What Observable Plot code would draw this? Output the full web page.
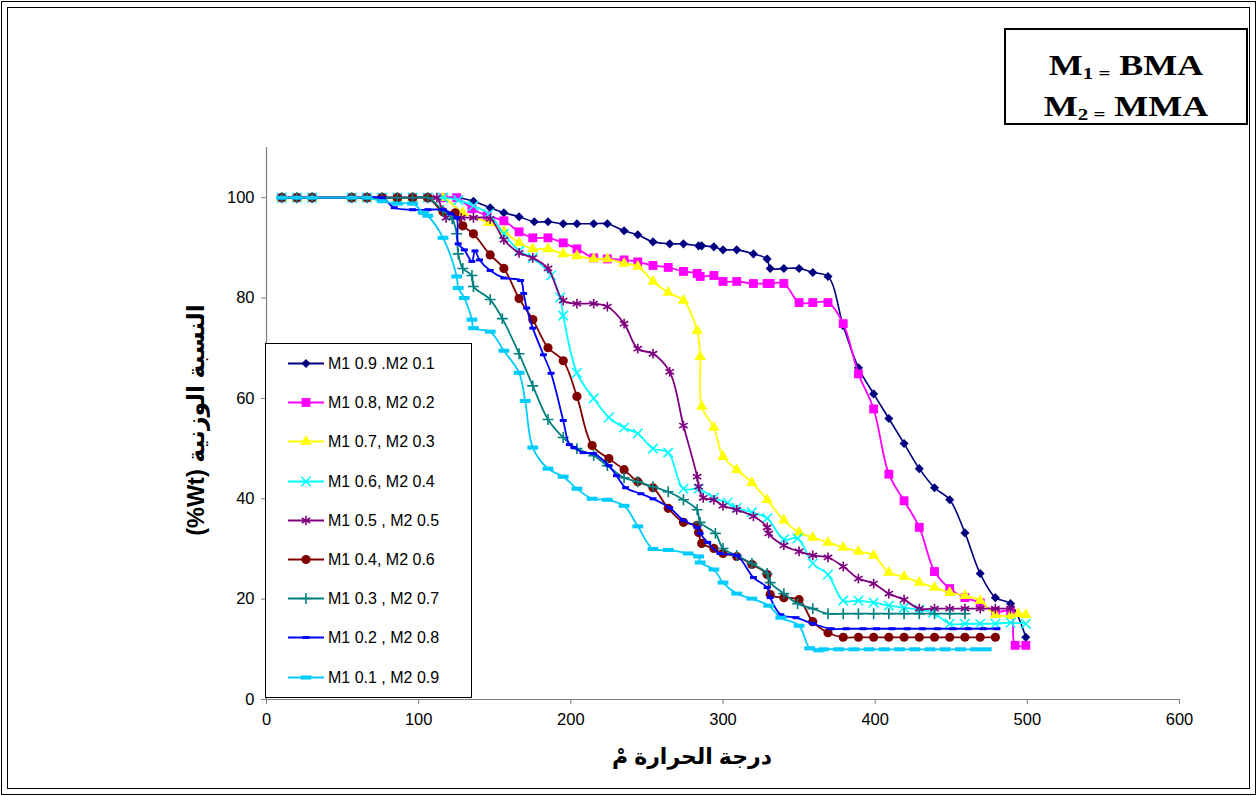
<!DOCTYPE html>
<html><head><meta charset="utf-8">
<script src="https://cdn.jsdelivr.net/npm/d3@7"></script>
<script src="https://cdn.jsdelivr.net/npm/@observablehq/plot@0.6"></script>
<style>
body{margin:0;background:#fff;}
#wrap{position:relative;width:1257px;height:796px;overflow:hidden;font-family:"Liberation Sans",Arial,sans-serif;background:#fff;}
#chart{position:absolute;left:0;top:0;}
.f1{position:absolute;left:1px;top:1px;width:1253px;height:792px;border:1px solid #000;pointer-events:none;}
.f2{position:absolute;left:7px;top:7px;width:1241px;height:780px;border:1px solid #000;pointer-events:none;}
#key{position:absolute;left:1004px;top:28px;width:240px;height:93px;border:2px solid #000;background:#fff;
 font-family:"Liberation Serif","Times New Roman",serif;font-weight:bold;}
#key .ln{position:absolute;left:0;width:100%;text-align:center;font-size:36px;line-height:36px;height:36px;white-space:nowrap;
 transform:scaleY(0.84);transform-origin:50% 30px;}
#key .sub{font-size:21px;vertical-align:-5px;}
#legend{position:absolute;left:265px;top:343px;width:205px;height:353px;border:1px solid #000;background:#fff;}
.row{position:absolute;left:0;height:39px;width:205px;}
.row svg{position:absolute;left:0;top:0;}
.row span{position:absolute;left:62px;top:0;line-height:39px;font-size:16px;white-space:nowrap;color:#000;}
#ytitle{position:absolute;left:196px;top:420px;transform:translate(-50%,-50%) rotate(-90deg);font-weight:bold;font-size:23.5px;white-space:nowrap;direction:rtl;font-family:"Liberation Sans","DejaVu Sans",sans-serif;}
#xtitle{position:absolute;left:692px;top:757px;transform:translate(-50%,-50%);font-weight:bold;font-size:22px;white-space:nowrap;direction:rtl;font-family:"Liberation Sans","DejaVu Sans",sans-serif;}
</style></head>
<body>
<div id="wrap">
  <div id="chart"></div>
  <div class="f1"></div><div class="f2"></div>
  <div id="key">
    <div class="ln" style="top:15px">M<span class="sub">1 =</span> BMA</div>
    <div class="ln" style="top:56px">M<span class="sub">2 =</span> MMA</div>
  </div>
  <div id="legend"></div>
  <div id="ytitle">النسبة الوزنية &#x2066;(%Wt)&#x2069;</div>
  <div id="xtitle">درجة الحرارة مْ</div>
</div>
<script>
const xTicks = [0,100,200,300,400,500,600];
const yTicks = [0,20,40,60,80,100];
const seriesNames = ["M1 0.9 .M2 0.1","M1 0.8, M2 0.2","M1 0.7, M2 0.3","M1 0.6, M2 0.4","M1 0.5 , M2 0.5","M1 0.4, M2 0.6","M1 0.3 , M2 0.7","M1 0.2 , M2 0.8","M1 0.1 , M2 0.9"];

const head = [[10,100],[20,100],[30,100],[56,100],[66,100],[76,100],[86,100],[96,100],[106,100]];

const s1 = head.concat([[116,100],[126,100],[136,99.3],[147,98],[156,97],[166,96.2],[176,95.2],[185,95.2],[195,94.8],[204,94.8],[215,94.8],[224,94.8],[235,93.4],[244,92.6],[254,91.2],[265,90.8],[274,90.8],[284,90.4],[286,90.4],[294,90.2],[300,89.6],[309,89.6],[320,88.8],[329,87.8],[331,85.9],[340,85.9],[350,85.9],[359,85.1],[369,84.3],[379,74.5],[389,66.1],[399,60.9],[409,56],[419,51],[429,46],[439,42.2],[449,39.8],[459,33.2],[469,25.1],[479,20.3],[489,19.1],[499,12.4]]);

const s2 = head.concat([[116,100],[125,100],[135,97.8],[145,96.4],[156,95.4],[166,93.2],[175,92],[185,92],[195,91],[204,89.8],[215,88],[224,87.8],[235,87.6],[244,87.2],[254,86.5],[264,86.1],[274,85.3],[283,84.9],[285,84.3],[294,84.5],[300,83.3],[309,83.3],[320,82.9],[329,82.9],[331,82.9],[340,82.9],[350,79.1],[359,79.1],[369,79.1],[379,74.9],[389,64.9],[399,57.9],[409,44.9],[419,39.6],[429,34.3],[439,25.5],[449,22.1],[459,20.3],[469,19.3],[479,17.5],[489,17.5],[492,10.8],[499,10.8]]);

const s3 = head.concat([[116,100],[129,97],[146,95],[156,93.3],[166,91],[175,89.8],[185,89.8],[195,88.8],[204,88.4],[215,87.8],[224,87.8],[235,86.9],[244,86.3],[254,83.3],[264,81.1],[274,79.5],[283,73.5],[285,68.3],[286,58.4],[294,54.2],[300,48.4],[309,45.8],[319,43.2],[329,39.8],[340,35.7],[350,33.3],[359,32.3],[369,31.3],[379,30.3],[389,29.5],[399,28.7],[409,25.3],[419,24.5],[429,23.3],[439,22.3],[449,21.3],[459,20.7],[469,19.7],[479,16.9],[489,16.7],[494,17.1],[499,16.9]]);

const s4 = head.concat([[116,100],[126,99.5],[136,98.4],[146,96.8],[156,92.8],[166,89.4],[175,88],[187,84.5],[193,80.1],[195,76.5],[204,65.1],[215,60],[225,56.2],[235,54.2],[244,53],[254,50],[264,49.2],[274,42],[284,42],[294,40.2],[303,39.2],[309,38.2],[319,37.3],[329,36.1],[340,31.9],[349,32.1],[359,27.1],[369,24.9],[379,19.7],[389,19.7],[399,19.3],[409,18.7],[419,18.3],[429,17.9],[438,17.3],[449,15.1],[459,15.1],[469,15.1],[479,15.1],[489,15.3],[499,15.1]]);

const s5 = head.concat([[112,100],[118,96],[128,96],[136,96],[147,95.8],[156,91.6],[166,89],[175,88],[185,85.9],[195,79.5],[204,78.9],[215,78.9],[224,78.3],[235,74.9],[244,69.9],[254,68.9],[265,65.3],[274,54.6],[283,44.4],[284,42.4],[287,40.2],[294,39.8],[300,38.6],[309,37.8],[320,36.5],[329,34.3],[330,33.1],[340,30.7],[350,29.5],[359,28.7],[369,28.3],[379,26.5],[389,24.1],[399,23.1],[409,21.1],[419,19.9],[429,18.1],[439,18.1],[449,18.1],[459,18.1],[469,18.1],[479,18.1],[489,18.1]]);

const s6 = head.concat([[116,97.2],[124,97],[129,94.4],[136,92.8],[147,88.6],[156,85.9],[166,79.9],[175,75.7],[185,70.1],[195,67.5],[204,60.4],[214,50.6],[225,48],[235,45.8],[244,43.4],[254,42.2],[264,38.1],[274,35.3],[283,34.7],[284,33.3],[286,31.1],[294,30.1],[300,29.1],[309,28.5],[319,26.9],[329,24.9],[331,20.9],[340,20.3],[350,19.9],[359,15.5],[369,13.3],[379,12.4],[389,12.4],[399,12.4],[409,12.4],[419,12.4],[429,12.4],[439,12.4],[449,12.4],[459,12.4],[469,12.4],[479,12.4]]);

const s7 = head.concat([[116,97.4],[122,95.8],[125,92.8],[126,88.8],[129,85.9],[135,84.5],[136,82.3],[147,79.7],[155,75.9],[166,68.9],[175,62.5],[185,55.8],[195,52.2],[204,50],[215,48.6],[224,46.6],[235,44.2],[244,43.4],[254,42.4],[264,41.4],[274,39.8],[283,37.8],[285,35.3],[295,33.1],[300,30.1],[309,28.7],[319,27.1],[329,25.1],[331,23.3],[340,21.1],[349,19.1],[359,18.1],[369,17.1],[379,17.1],[389,17.1],[399,17.1],[409,17.1],[419,17.1],[429,17.1],[439,17.1],[449,17.1],[459,17.1]]);

const s8 = [[10,100],[20,100],[30,100],[56,100],[66,100],[76,100],[84,98],[96,97.6],[106,97.6],[116,97.6],[121,96.8],[125,96],[126,90.8],[130,89.6],[135,87.3],[137,89.4],[140,87.6],[147,85.5],[156,84],[167,83.5],[169,80.9],[171,78],[175,74],[182,68.7],[187,65],[195,55.6],[199,50.8],[202,50.2],[208,49.2],[215,49],[225,46.6],[230,44.6],[236,42.2],[246,41],[254,40],[265,38.2],[274,35.7],[283,34.3],[285,33.1],[290,31.3],[298,29.1],[309,28.7],[320,24.3],[329,22.3],[331,20.3],[338,16.9],[348,16.3],[359,15.1],[371,14.1],[381,14.1],[392,14.1],[401,14.1],[411,14.1],[421,14.1],[431,14.1],[441,14.1],[451,14.1],[461,14.1],[471,14.1],[480,14.1]];

const s9 = [[10,100],[20,100],[30,100],[56,100],[66,100],[76,99.3],[86,98.8],[96,98.8],[103,97],[106,96.4],[116,92],[125,84.3],[126,82],[130,80],[135,75.7],[136,74],[147,73.3],[156,69.5],[166,65.1],[170,59.5],[175,50.2],[185,46],[195,44.4],[204,42],[214,40],[224,39.8],[235,38.6],[244,34.5],[254,30],[264,29.8],[277,29.1],[284,28.5],[285,27.3],[294,25.9],[300,23.3],[309,21.1],[319,20.1],[330,18.7],[338,16.3],[350,14.7],[357,10.2],[363,9.8],[366,10],[376,10],[386,10],[396,10],[406,10],[416,10],[426,10],[436,10],[446,10],[456,10],[466,10],[473,10]];

const seriesData = [s1,s2,s3,s4,s5,s6,s7,s8,s9];
const colors = ["#000080","#FF00FF","#FFFF00","#00FFFF","#800080","#800000","#008080","#0000FF","#00CCFF"];

const dashSmall = {draw(ctx,size){const s=Math.sqrt(size/Math.PI); ctx.rect(-s*1.15,-s*0.5,s*2.3,s*1.0);}};
const dashBig = {draw(ctx,size){const s=Math.sqrt(size/Math.PI); ctx.rect(-s*1.2,-s*0.45,s*2.4,s*0.9);}};
const styles = [
  {symbol:"diamond2", r:4.1, fill:true},
  {symbol:"square", r:5, fill:true},
  {symbol:"triangle", r:4.2, fill:true},
  {symbol:"times", r:4.4, fill:false},
  {symbol:"asterisk", r:4.6, fill:false},
  {symbol:"circle", r:4.6, fill:true},
  {symbol:"plus", r:3.6, fill:false},
  {symbol:dashSmall, r:3, fill:true},
  {symbol:dashBig, r:4.5, fill:true}
];

const marks = [
  Plot.ruleY([0], {stroke:"#7f7f7f", strokeWidth:1.2}),
  Plot.ruleX([0], {stroke:"#7f7f7f", strokeWidth:1.2}),
  Plot.axisX({ticks:xTicks, tickSize:5, tickPadding:9, tickFormat:d=>String(d), label:null, stroke:"#7f7f7f"}),
  Plot.axisY({ticks:yTicks, tickSize:5, tickPadding:7, tickFormat:d=>String(d), label:null, stroke:"#7f7f7f"})
];
seriesData.forEach((data,i)=>{
  const st = styles[i];
  marks.push(Plot.line(data, {x:d=>d[0], y:d=>d[1], stroke:colors[i], strokeWidth: i===0?1.6:1.8, curve:"catmull-rom"}));
  marks.push(Plot.dot(data, {x:d=>d[0], y:d=>d[1], symbol:st.symbol, r:st.r,
    fill: st.fill ? colors[i] : "none", stroke: st.fill ? "none" : colors[i], strokeWidth: st.fill?0:1.6}));
});

const chart = Plot.plot({
  width:1257, height:796,
  marginLeft:266, marginRight:78, marginTop:147, marginBottom:97,
  x:{domain:[0,600]}, y:{domain:[0,110]},
  style:{fontFamily:"'Liberation Sans', Arial, sans-serif", fontSize:"16.5px", color:"#000", background:"transparent", overflow:"visible"},
  marks
});
document.getElementById("chart").appendChild(chart);

// legend
const legend = d3.select("#legend");
seriesNames.forEach((name,i)=>{
  const st = styles[i];
  const row = legend.append("div").attr("class","row").style("top",(i*39.2)+"px");
  const svg = row.append("svg").attr("width",60).attr("height",39);
  svg.append("line").attr("x1",22).attr("x2",58).attr("y1",19.5).attr("y2",19.5).attr("stroke",colors[i]).attr("stroke-width",1.8);
  const symType = typeof st.symbol === "string" ? ({diamond2:d3.symbolDiamond2,square:d3.symbolSquare,triangle:d3.symbolTriangle,times:d3.symbolTimes,asterisk:d3.symbolAsterisk,circle:d3.symbolCircle,plus:d3.symbolPlus})[st.symbol] : st.symbol;
  svg.append("path").attr("transform","translate(40,19.5)")
    .attr("d", d3.symbol(symType, Math.PI*st.r*st.r)())
    .attr("fill", st.fill?colors[i]:"none").attr("stroke", st.fill?"none":colors[i]).attr("stroke-width",1.6);
  row.append("span").text(name);
});
</script>
</body></html>
